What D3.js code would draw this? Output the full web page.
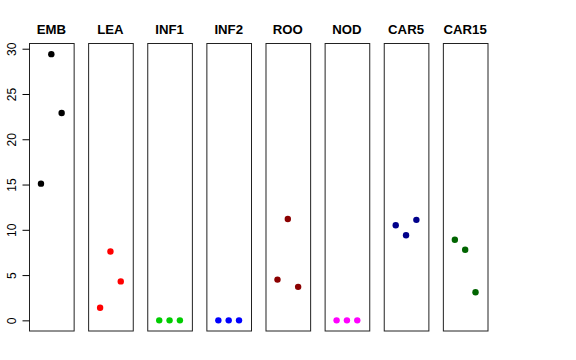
<!DOCTYPE html>
<html>
<head>
<meta charset="utf-8">
<script src="https://cdn.jsdelivr.net/npm/d3@7"></script>
<style>
  body { margin: 0; background: #fff; }
  text { font-family: "Liberation Sans", Arial, sans-serif; }
</style>
</head>
<body>
<script>
// panel names and point colours
var groups = ["EMB", "LEA", "INF1", "INF2", "ROO", "NOD", "CAR5", "CAR15"];
var colors = ["#000000", "#ff0000", "#00cd00", "#0000ff", "#8b0000", "#ff00ff", "#00008b", "#006400"];

// three replicate values per panel
var rep1 = [15.1, 1.4, 0, 0, 4.5, 0, 10.5, 8.9];
var rep2 = [29.4, 7.6, 0, 0, 11.2, 0, 9.4, 7.8];
var rep3 = [22.9, 4.3, 0, 0, 3.7, 0, 11.1, 3.1];

var yTicks = [0, 5, 10, 15, 20, 25, 30];

var width = 576, height = 360;

var svg = d3.select("body")
    .append("svg")
    .attr("width", width)
    .attr("height", height);

//panel placement
var panelX = d3.scaleBand()
    .domain(groups)
    .range([29, 487.5])
    .paddingInner(0.245)
    .paddingOuter(0);

var bw = panelX.bandwidth();

//shared y scale, R style 4% extension
var ymax = d3.max(rep1.concat(rep2, rep3));
var ext = ymax * 0.04;
var y = d3.scaleLinear()
    .domain([0 - ext, ymax + ext])
    .range([331, 43.5]);

//x inside each panel
var x = d3.scaleLinear()
    .domain([-0.16, 4.16])
    .range([0, bw]);

var rows = groups.map(function(g, i){
    return {name: g, color: colors[i], vals: [rep1[i], rep2[i], rep3[i]]};
});

var panels = svg.selectAll(".panel")
    .data(rows)
    .enter()
    .append("g")
    .attr("class", "panel")
    .attr("transform", function(d){ return "translate(" + panelX(d.name) + ",0)"; });

panels.append("rect")
    .attr("x", 0.5)
    .attr("y", y.range()[1])
    .attr("width", bw)
    .attr("height", y.range()[0] - y.range()[1])
    .attr("fill", "none")
    .attr("stroke", "#222")
    .attr("stroke-width", 1);

panels.append("text")
    .attr("x", bw / 2)
    .attr("y", 33.5)
    .attr("text-anchor", "middle")
    .attr("font-size", "13.2px")
    .attr("font-weight", "bold")
    .text(function(d){ return d.name; });

panels.selectAll("circle")
    .data(function(d){
        return d.vals.map(function(v, j){ return {v: v, k: j + 1, color: d.color}; });
    })
    .enter()
    .append("circle")
    .attr("cx", function(d){ return x(d.k); })
    .attr("cy", function(d){ return y(d.v); })
    .attr("r", 3.2)
    .attr("fill", function(d){ return d.color; });

//y axis on the first panel
var yAxis = d3.axisLeft(y)
    .tickValues(yTicks)
    .tickSize(7)
    .tickPadding(6);

var axisG = svg.append("g")
    .attr("transform", "translate(29.5,0)")
    .call(yAxis);

axisG.select(".domain").remove();
axisG.selectAll(".tick line").attr("stroke", "#000");
axisG.selectAll(".tick text")
    .attr("font-family", "Liberation Sans, Arial, sans-serif")
    .attr("font-size", "12px")
    .attr("fill", "#000")
    .attr("text-anchor", "middle")
    .attr("dy", null)
    .attr("x", null)
    .attr("transform", "translate(-18,0) rotate(-90)")
    .attr("dominant-baseline", "central");
</script>
</body>
</html>
